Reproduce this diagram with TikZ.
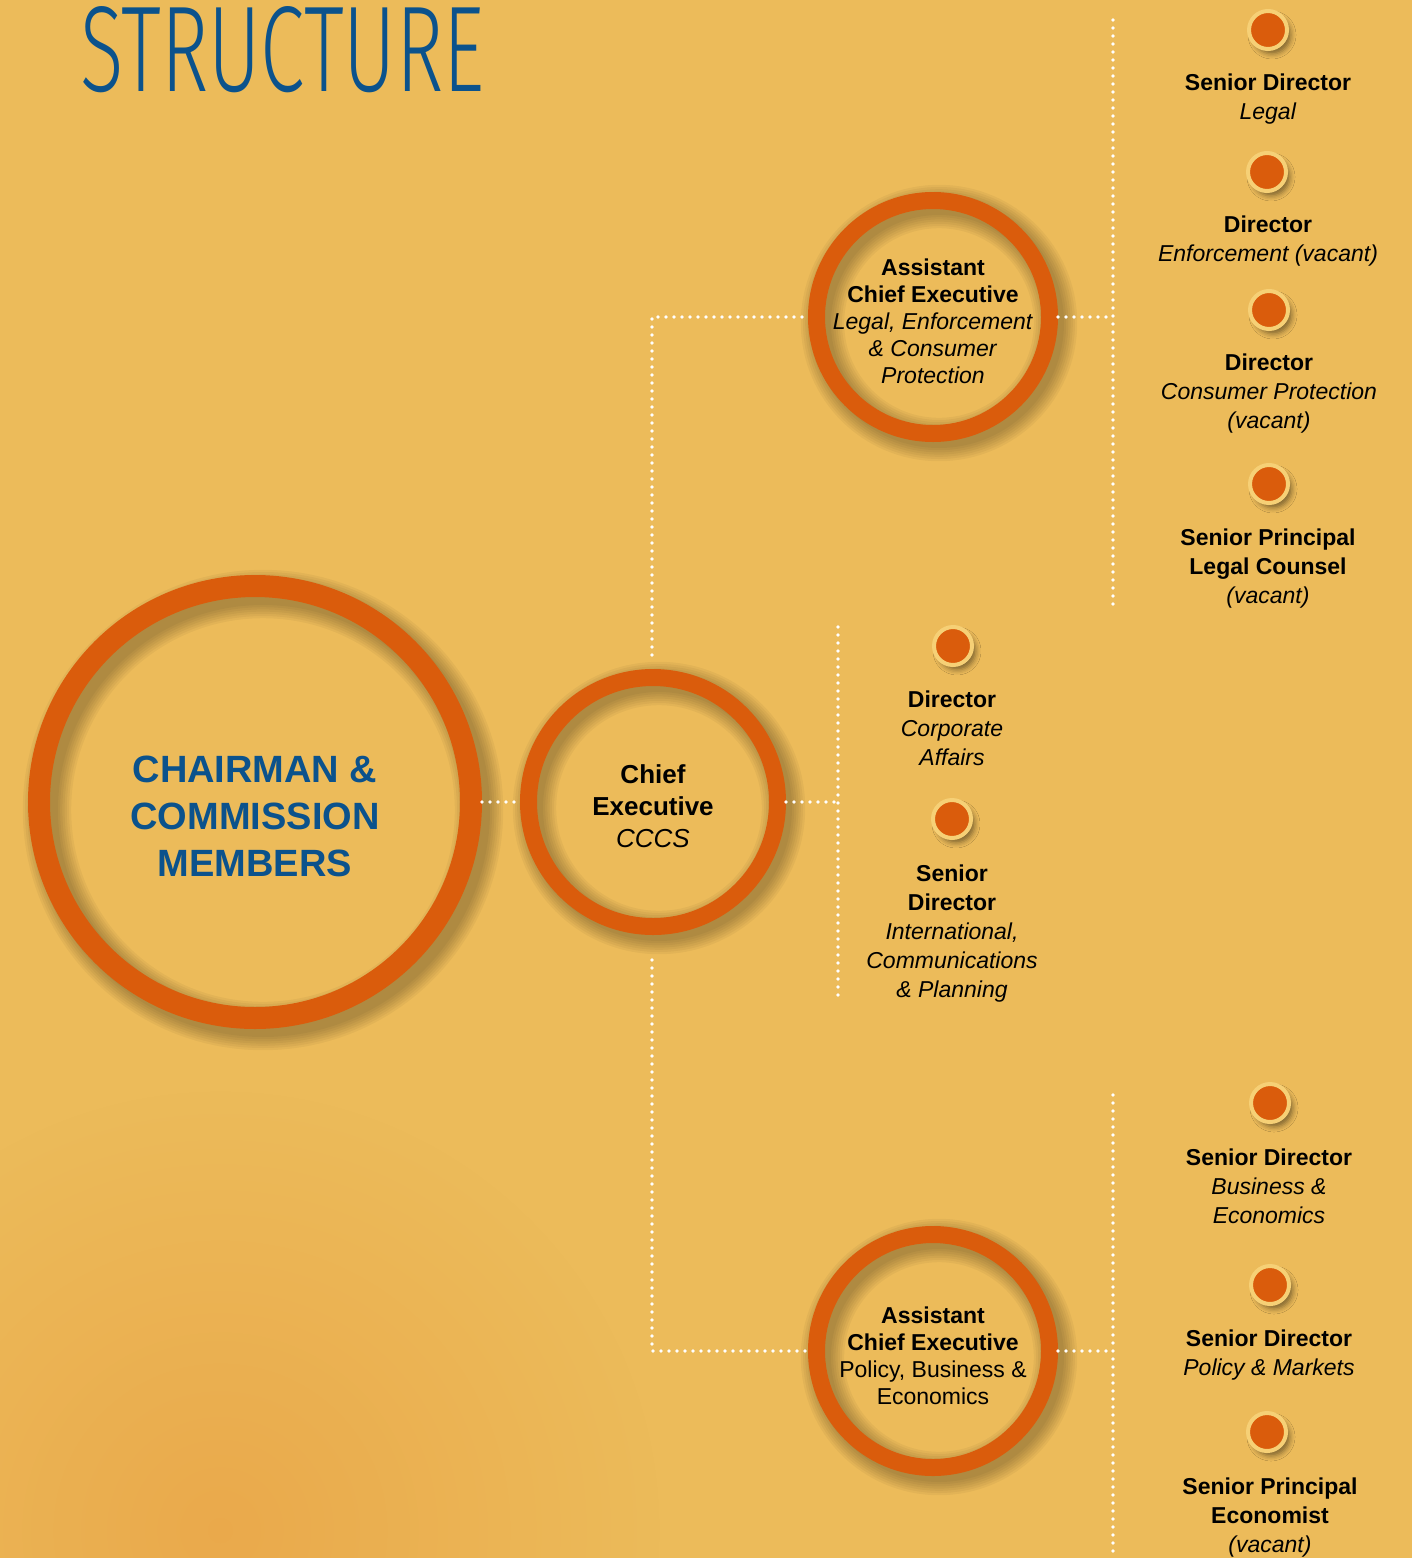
\documentclass[tikz,border=0pt]{standalone}
\usepackage{fontspec}
\setmainfont{Liberation Sans}
\newfontfamily\titlefont{Fira Sans Light}
\usepackage{graphicx}
\usetikzlibrary{shadows.blur,fadings}
\definecolor{bg}{RGB}{236,187,90}
\definecolor{ringor}{RGB}{218,92,12}
\definecolor{dotring}{RGB}{246,208,118}
\definecolor{navy}{RGB}{11,82,140}
\definecolor{blobor}{RGB}{232,148,58}
\tikzfading[name=blobfade, inner color=transparent!0, outer color=transparent!100]
\begin{document}
\begin{tikzpicture}[x=0.5pt,y=-0.5pt,
  ring/.style={circle, draw=ringor, inner sep=0pt},
  conn/.style={draw=white, line width=1.9pt, line cap=round, dash pattern=on 0pt off 4pt},
  pindot/.style={circle, fill=ringor, draw=dotring, line width=2pt, minimum size=19pt, inner sep=0pt,
    blur shadow={shadow xshift=2pt, shadow yshift=-2.5pt, shadow blur radius=2.5pt, shadow opacity=45}},
  lab/.style={anchor=north, align=center, inner sep=0pt, font=\fontsize{11.5pt}{14.5pt}\selectfont},
  acetxt/.style={align=center, inner sep=0pt, font=\fontsize{11.5pt}{13.5pt}\selectfont},
  cetxt/.style={align=center, inner sep=0pt, font=\fontsize{13pt}{16pt}\selectfont},
  chairtxt/.style={align=center, inner sep=0pt, text=navy, font=\fontsize{19pt}{23.5pt}\selectfont\bfseries}
]
\clip (0,0) rectangle (1412,1558);
\fill[bg] (0,0) rectangle (1412,1558);
\fill[blobor, path fading=blobfade, fill opacity=0.45] (220,1530) circle[radius=220pt];

% title
\node[anchor=north west, inner sep=0pt, text=navy] (title) at (80,6)
  {\resizebox{202pt}{42.5pt}{\titlefont\fontsize{40pt}{40pt}\selectfont STRUCTURE}};

% centres
\coordinate (cchair) at (255,802);
\coordinate (cce) at (653,802);
\coordinate (cacea) at (933,317);
\coordinate (caceb) at (933,1351);

% ring shadows
\foreach \c/\r/\w/\s in {cchair/108/11/4, cce/62.25/8.5/3, cacea/58.25/8.5/3, caceb/58.25/8.5/3}{
  \foreach \k in {0,...,6}{
    \draw[black, draw opacity=0.04, line width=\w pt+\k*2.2pt] ([shift={(\s pt,-\s pt)}]\c) circle[radius=\r pt];
  }
}

% rings
\node[ring, line width=11pt, minimum size=216pt] (chair) at (cchair) {};
\node[ring, line width=8.5pt, minimum size=124.5pt] (ce) at (cce) {};
\node[ring, line width=8.5pt, minimum size=116.5pt] (acea) at (cacea) {};
\node[ring, line width=8.5pt, minimum size=116.5pt] (aceb) at (caceb) {};

% connectors
\coordinate (mtop) at (838,627);
\coordinate (mbot) at (838,997);
\coordinate (cetop) at (652,655);
\coordinate (cebot) at (652,960);
\coordinate (rtopa) at (1113,20);
\coordinate (rbota) at (1113,607);
\coordinate (rtopb) at (1113,1095);
\coordinate (rbotb) at (1113,1558);
\draw[conn] (chair.east) -- (ce.west);
\draw[conn] (ce.east) -- (ce.east -| mtop);
\draw[conn] (mtop) -- (mbot);
\draw[conn] (cetop) |- (acea.west);
\draw[conn] (cebot) |- (aceb.west);
\draw[conn] (acea.east) -- (acea.east -| rtopa);
\draw[conn] (rtopa) -- (rbota);
\draw[conn] (aceb.east) -- (aceb.east -| rtopb);
\draw[conn] (rtopb) -- (rbotb);

% circle texts
\node[chairtxt] (chairlabel) at (255,816) {CHAIRMAN \&\\COMMISSION\\MEMBERS};
\node[cetxt] (celabel) at (653,806) {\textbf{Chief}\\\textbf{Executive}\\\textit{CCCS}};
\node[acetxt] (acealabel) at (933,321) {\textbf{Assistant}\\\textbf{Chief Executive}\\\textit{Legal, Enforcement}\\\textit{\& Consumer}\\\textit{Protection}};
\node[acetxt] (aceblabel) at (933,1356) {\textbf{Assistant}\\\textbf{Chief Executive}\\Policy, Business \&\\Economics};

% dots
\node[pindot] (d1) at (1268,30) {};
\node[pindot] (d2) at (1267,172) {};
\node[pindot] (d3) at (1269,310) {};
\node[pindot] (d4) at (1269,484) {};
\node[pindot] (d5) at (953,646) {};
\node[pindot] (d6) at (952,819) {};
\node[pindot] (d7) at (1270,1103) {};
\node[pindot] (d8) at (1270,1285) {};
\node[pindot] (d9) at (1267,1432) {};

% labels
\node[lab] (l1) at (1268,73.5) {\textbf{Senior Director}\\\textit{Legal}};
\node[lab] (l2) at (1268,215.5) {\textbf{Director}\\\textit{Enforcement (vacant)}};
\node[lab] (l3) at (1269,353.5) {\textbf{Director}\\\textit{Consumer Protection}\\\textit{(vacant)}};
\node[lab] (l4) at (1268,528.5) {\textbf{Senior Principal}\\\textbf{Legal Counsel}\\\textit{(vacant)}};
\node[lab] (l5) at (952,690.5) {\textbf{Director}\\\textit{Corporate}\\\textit{Affairs}};
\node[lab] (l6) at (952,864.5) {\textbf{Senior}\\\textbf{Director}\\\textit{International,}\\\textit{Communications}\\\textit{\& Planning}};
\node[lab] (l7) at (1269,1148.5) {\textbf{Senior Director}\\\textit{Business \&}\\\textit{Economics}};
\node[lab] (l8) at (1269,1329.5) {\textbf{Senior Director}\\\textit{Policy \& Markets}};
\node[lab] (l9) at (1270,1477.5) {\textbf{Senior Principal}\\\textbf{Economist}\\\textit{(vacant)}};
\end{tikzpicture}
\end{document}
